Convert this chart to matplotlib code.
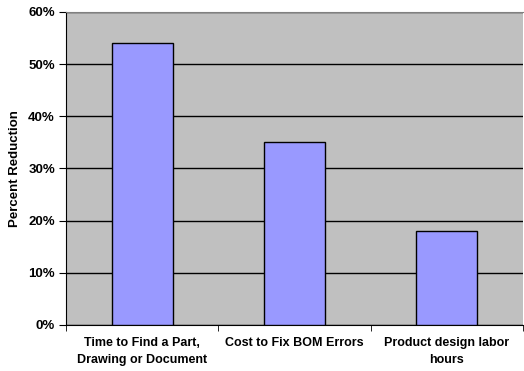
import numpy as np
import matplotlib
matplotlib.use("Agg")
import matplotlib.pyplot as plt
from matplotlib.ticker import FixedLocator

categories = ["Time to Find a Part,\nDrawing or Document",
              "Cost to Fix BOM Errors",
              "Product design labor\nhours"]
values = [54, 35, 18]
yticks = [0, 10, 20, 30, 40, 50, 60]

plt.rcParams['font.family'] = ['Liberation Sans', 'DejaVu Sans']
plt.rcParams['font.weight'] = 'bold'

fig = plt.figure(figsize=(5.24, 3.71), dpi=100)
ax = fig.add_axes([0.126, 0.124, 0.872, 0.844])
ax.set_facecolor('#C0C0C0')

x = np.arange(len(categories))
ax.bar(x, values, width=0.4, color='#9999FF', edgecolor='black', linewidth=1, zorder=3)

ax.set_xlim(-0.5, 2.5)
ax.set_ylim(0, 60)
ax.set_yticks(yticks)
ax.set_yticklabels([f"{v}%" for v in yticks], fontsize=9.5, fontweight='bold')
ax.yaxis.grid(True, color='black', linewidth=1, zorder=1)
ax.set_axisbelow(True)

ax.set_xticks(x)
ax.set_xticklabels(categories, fontsize=9, fontweight='bold', linespacing=1.5)
ax.tick_params(axis='x', length=0, pad=9)
ax.xaxis.set_minor_locator(FixedLocator([-0.5, 0.5, 1.5, 2.5]))
ax.tick_params(axis='x', which='minor', length=4, color='black', direction='out')
ax.tick_params(axis='y', length=5, direction='out', pad=3)

ax.set_ylabel("Percent Reduction", fontsize=9.5, fontweight='bold', labelpad=5)

for s in ['top', 'right']:
    ax.spines[s].set_color('#808080')
ax.spines['right'].set_visible(False)
ax.spines['left'].set_color('black')
ax.spines['bottom'].set_color('black')

fig.savefig("out.png", dpi=100)
